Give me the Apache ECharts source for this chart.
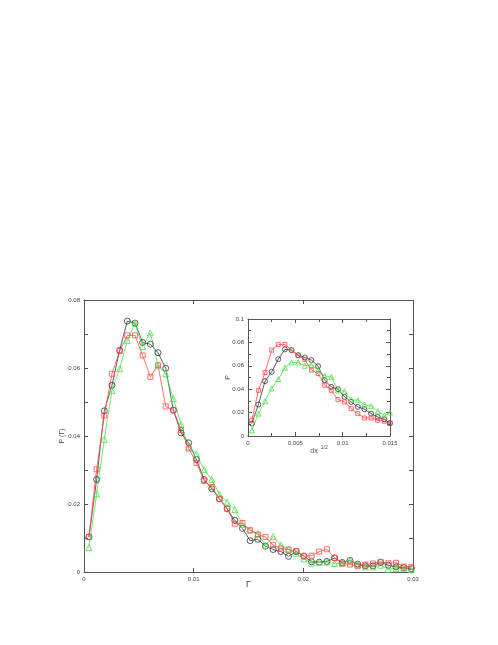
<!DOCTYPE html>
<html>
<head>
<meta charset="utf-8">
<script src="https://cdn.jsdelivr.net/npm/echarts@6/dist/echarts.min.js"></script>
<style>
  html, body { margin: 0; padding: 0; background: #fff; }
  #chart { width: 498px; height: 645px; }
</style>
</head>
<body>
<div id="chart"></div>
<script>
// main plot: P(Gamma) vs Gamma
const mainX = [0.00045, 0.00115, 0.00185, 0.00255, 0.00325, 0.00395, 0.00465, 0.00535, 0.00605, 0.00675,
  0.00745, 0.00815, 0.00885, 0.00955, 0.01025, 0.01095, 0.01165, 0.01235, 0.01305, 0.01375,
  0.01445, 0.01515, 0.01585, 0.01655, 0.01725, 0.01795, 0.01865, 0.01935, 0.02005, 0.02075,
  0.02145, 0.02215, 0.02285, 0.02355, 0.02425, 0.02495, 0.02565, 0.02635, 0.02705, 0.02775,
  0.02845, 0.02915, 0.02985];
const mainBlack = [0.0103, 0.0272, 0.0474, 0.0549, 0.0652, 0.0738, 0.0732, 0.0675, 0.0670, 0.0645,
  0.0599, 0.0476, 0.0409, 0.0380, 0.0331, 0.0272, 0.0245, 0.0215, 0.0186, 0.0152,
  0.0128, 0.0092, 0.0096, 0.0076, 0.0066, 0.0060, 0.0046, 0.0060, 0.0047, 0.0030,
  0.0029, 0.0031, 0.0041, 0.0028, 0.0034, 0.0023, 0.0018, 0.0018, 0.0028, 0.0020,
  0.0015, 0.0013, 0.0010];
const mainRed = [0.0103, 0.0302, 0.0460, 0.0583, 0.0650, 0.0696, 0.0696, 0.0637, 0.0574, 0.0608,
  0.0487, 0.0476, 0.0418, 0.0363, 0.0321, 0.0268, 0.0250, 0.0215, 0.0186, 0.0142,
  0.0144, 0.0123, 0.0110, 0.0103, 0.0079, 0.0069, 0.0066, 0.0062, 0.0046, 0.0048,
  0.0060, 0.0067, 0.0042, 0.0025, 0.0022, 0.0017, 0.0022, 0.0025, 0.0030, 0.0026,
  0.0027, 0.0016, 0.0015];
const mainGreen = [0.0072, 0.0230, 0.0390, 0.0534, 0.0598, 0.0681, 0.0732, 0.0664, 0.0703, 0.0608,
  0.0583, 0.0510, 0.0434, 0.0368, 0.0348, 0.0301, 0.0272, 0.0229, 0.0206, 0.0184,
  0.0140, 0.0123, 0.0113, 0.0079, 0.0104, 0.0079, 0.0066, 0.0054, 0.0039, 0.0026,
  0.0029, 0.0029, 0.0025, 0.0026, 0.0034, 0.0022, 0.0015, 0.0015, 0.0020, 0.0008,
  0.0010, 0.0010, 0.0007];

// inset: P vs dx^(1/2)
const insetX = [0.0004, 0.0011, 0.0018, 0.0025, 0.0032, 0.0039, 0.0046, 0.0053, 0.0060, 0.0067,
  0.0074, 0.0081, 0.0088, 0.0095, 0.0102, 0.0109, 0.0116, 0.0123, 0.0130, 0.0137,
  0.0144, 0.0150];
const insetBlack = [0.0106, 0.0269, 0.0469, 0.0549, 0.0657, 0.0740, 0.0734, 0.0691, 0.0671, 0.0649,
  0.0597, 0.0477, 0.0420, 0.0400, 0.0334, 0.0291, 0.0249, 0.0229, 0.0191, 0.0163,
  0.0143, 0.0110];
const insetRed = [0.0134, 0.0390, 0.0543, 0.0734, 0.0783, 0.0783, 0.0734, 0.0686, 0.0654, 0.0563,
  0.0534, 0.0434, 0.0390, 0.0311, 0.0291, 0.0234, 0.0191, 0.0154, 0.0154, 0.0134,
  0.0126, 0.0106];
const insetGreen = [0.0049, 0.0191, 0.0297, 0.0406, 0.0486, 0.0583, 0.0629, 0.0629, 0.0600, 0.0606,
  0.0563, 0.0514, 0.0506, 0.0390, 0.0383, 0.0311, 0.0306, 0.0269, 0.0257, 0.0211,
  0.0177, 0.0200];

const BLACK = "#333333";
const RED = "#ff4a4a";
const GREEN = "#4ddf4d";
const AXIS = "#555555";
const FONT = "Liberation Sans";

function fmt(v) {
  return String(+v.toFixed(4));
}

function pairs(xs, ys) {
  return xs.map((x, i) => [x, ys[i]]);
}

function lineSeries(xi, yi, xs, ys, color, symbol, size) {
  return {
    type: "line",
    xAxisIndex: xi,
    yAxisIndex: yi,
    data: pairs(xs, ys),
    symbol: symbol,
    symbolSize: size,
    showAllSymbol: true,
    animation: false,
    lineStyle: { color: color, width: 0.8 },
    itemStyle: { color: "rgba(255,255,255,0)", borderColor: color, borderWidth: 0.8 },
    z: 10,
  };
}

function axisBase(extra) {
  return Object.assign({
    type: "value",
    z: 10,
    nameMoveOverlap: false,
    axisLine: { show: true, onZero: false, lineStyle: { color: AXIS, width: 1 } },
    axisTick: { show: true, inside: true, length: 4, lineStyle: { color: AXIS } },
    splitLine: { show: false },
    axisLabel: { show: true, fontSize: 6, color: "#444", fontFamily: FONT, formatter: fmt },
  }, extra);
}

const chart = echarts.init(document.getElementById("chart"));

chart.setOption({
  backgroundColor: "#fff",
  animation: false,
  grid: [
    { left: 84, top: 300, right: 85, bottom: 73 },
    { left: 248, top: 319, right: 108, bottom: 209, show: true, backgroundColor: "#fff", borderWidth: 0, z: 1 },
  ],
  xAxis: [
    axisBase({
      gridIndex: 0, min: 0, max: 0.03, interval: 0.01, position: "bottom",
      name: "Γ", nameLocation: "middle", nameGap: 8,
      nameTextStyle: { fontSize: 9, color: "#444", fontFamily: FONT },
      axisLabel: { fontSize: 6, color: "#444", fontFamily: FONT, formatter: fmt, margin: 4 },
    }),
    axisBase({
      gridIndex: 0, min: 0, max: 0.03, interval: 0.01, position: "top",
      axisLabel: { show: false },
    }),
    axisBase({
      gridIndex: 1, min: 0, max: 0.015, interval: 0.005, position: "bottom",
      name: "{a|dx}{b|1/2}", nameLocation: "middle", nameGap: 9,
      nameTextStyle: {
        rich: {
          a: { fontSize: 7, color: "#444", fontFamily: FONT },
          b: { fontSize: 5, color: "#444", fontFamily: FONT, padding: [0, 0, 7, 3] },
        },
      },
      minorTick: { show: true, splitNumber: 2, length: 3, lineStyle: { color: AXIS } },
      axisLabel: { fontSize: 6, color: "#444", fontFamily: FONT, formatter: fmt, margin: 4 },
    }),
    axisBase({
      gridIndex: 1, min: 0, max: 0.015, interval: 0.005, position: "top",
      minorTick: { show: true, splitNumber: 2, length: 3, lineStyle: { color: AXIS } },
      axisLabel: { show: false },
    }),
  ],
  yAxis: [
    axisBase({
      gridIndex: 0, min: 0, max: 0.08, interval: 0.02, position: "left",
      name: "P (Γ)", nameLocation: "middle", nameGap: 18, nameRotate: 90,
      nameTextStyle: { fontSize: 7, color: "#444", fontFamily: FONT },
      minorTick: { show: true, splitNumber: 2, length: 4, lineStyle: { color: AXIS } },
      axisLabel: { fontSize: 6, color: "#444", fontFamily: FONT, formatter: fmt, margin: 4 },
    }),
    axisBase({
      gridIndex: 0, min: 0, max: 0.08, interval: 0.02, position: "right",
      minorTick: { show: true, splitNumber: 2, length: 4, lineStyle: { color: AXIS } },
      axisLabel: { show: false },
    }),
    axisBase({
      gridIndex: 1, min: 0, max: 0.1, interval: 0.02, position: "left",
      name: "P", nameLocation: "middle", nameGap: 16, nameRotate: 90,
      nameTextStyle: { fontSize: 7, color: "#444", fontFamily: FONT },
      minorTick: { show: true, splitNumber: 2, length: 3, lineStyle: { color: AXIS } },
      axisLabel: { fontSize: 6, color: "#444", fontFamily: FONT, formatter: fmt, margin: 4 },
    }),
    axisBase({
      gridIndex: 1, min: 0, max: 0.1, interval: 0.02, position: "right",
      minorTick: { show: true, splitNumber: 2, length: 3, lineStyle: { color: AXIS } },
      axisLabel: { show: false },
    }),
  ],
  series: [
    lineSeries(0, 0, mainX, mainBlack, BLACK, "circle", 6),
    lineSeries(0, 0, mainX, mainGreen, GREEN, "triangle", 6),
    lineSeries(0, 0, mainX, mainRed, RED, "rect", 5),
    lineSeries(2, 2, insetX, insetBlack, BLACK, "circle", 5),
    lineSeries(2, 2, insetX, insetGreen, GREEN, "triangle", 5),
    lineSeries(2, 2, insetX, insetRed, RED, "rect", 4),
  ],
});
</script>
</body>
</html>
